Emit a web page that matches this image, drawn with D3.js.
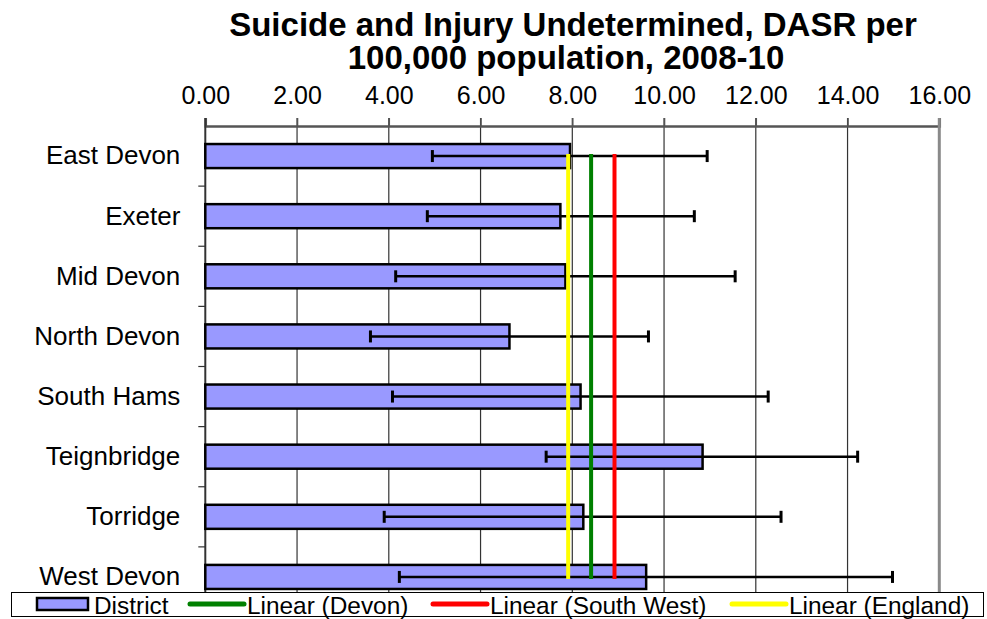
<!DOCTYPE html>
<html><head><meta charset="utf-8">
<script src="https://cdn.jsdelivr.net/npm/d3@7"></script>
<style>body{margin:0;background:#fff;} svg{display:block;font-family:"Liberation Sans",Arial,sans-serif;}</style>
</head><body>
<svg id="chart" width="987" height="619"></svg>
<script>
const categories = ["East Devon","Exeter","Mid Devon","North Devon","South Hams","Teignbridge","Torridge","West Devon"];
const districtValues = [7.95, 7.74, 7.85, 6.63, 8.18, 10.84, 8.24, 9.61];
const lowerCI = [4.95, 4.84, 4.15, 3.60, 4.08, 7.43, 3.90, 4.23];
const upperCI = [10.94, 10.66, 11.55, 9.66, 12.27, 14.22, 12.55, 14.98];
const refNames = ["Linear (Devon)", "Linear (South West)", "Linear (England)"];
const refValues = [8.41, 8.92, 7.91];
const refColors = ["#008000", "#ff0000", "#ffff00"];
const xTicks = [0,2,4,6,8,10,12,14,16];

(function(){
const svg = d3.select("#chart");
const pL = 205.3, pR = 939.3, pT = 126, pB = 607;
const x = d3.scaleLinear().domain([0,16]).range([pL,pR]);
const y = d3.scaleBand().domain(categories).range([pT,pB]).paddingInner(0.6).paddingOuter(0.3);

// title
const title = svg.append("text").attr("text-anchor","middle").attr("font-weight","bold").attr("font-size",33);
title.append("tspan").attr("x",573).attr("y",36).text("Suicide and Injury Undetermined, DASR per");
title.append("tspan").attr("x",566).attr("y",69).text("100,000 population, 2008-10");

// gridlines
svg.append("g").selectAll("line").data(xTicks.slice(1,-1)).join("line")
  .attr("x1",d=>x(d)).attr("x2",d=>x(d)).attr("y1",pT-8).attr("y2",pB)
  .attr("stroke","#333").attr("stroke-width",1.2);
// top axis
const xAxis = d3.axisTop(x).tickValues(xTicks).tickFormat(d3.format(".2f")).tickSize(8).tickPadding(14);
const gx = svg.append("g").attr("transform",`translate(0,${pT})`).call(xAxis);
gx.select(".domain").attr("stroke","#555").attr("stroke-width",2.5);
gx.selectAll(".tick line").attr("stroke","#555").attr("stroke-width",1.5);
gx.selectAll(".tick text").attr("font-size",25).attr("fill","#000").attr("font-family","Liberation Sans, Arial, sans-serif");
// right border
svg.append("line").attr("x1",pR).attr("x2",pR).attr("y1",pT-8).attr("y2",pB).attr("stroke","#8a8a8a").attr("stroke-width",3);

// left axis
const yAxis = d3.axisLeft(y).tickSize(0).tickPadding(25);
const gy = svg.append("g").attr("transform",`translate(${pL},0)`).call(yAxis);
gy.select(".domain").remove();
gy.selectAll(".tick text").attr("font-size",26).attr("fill","#000").attr("font-family","Liberation Sans, Arial, sans-serif");
svg.append("line").attr("x1",pL).attr("x2",pL).attr("y1",pT-8).attr("y2",pB).attr("stroke","#333").attr("stroke-width",2);
const bounds = d3.range(1, categories.length+1).map(i => pT + i*(pB-pT)/categories.length);
svg.append("g").selectAll("line").data(bounds).join("line")
  .attr("x1",pL-7).attr("x2",pL).attr("y1",d=>d).attr("y2",d=>d).attr("stroke","#333").attr("stroke-width",1.2);

// bars
svg.append("g").selectAll("rect").data(categories).join("rect")
  .attr("x",x(0)).attr("y",d=>y(d)).attr("height",y.bandwidth())
  .attr("width",(d,i)=>x(districtValues[i])-x(0))
  .attr("fill","#9999ff").attr("stroke","#000").attr("stroke-width",2.5);

// error bars
const eb = svg.append("g").attr("stroke","#000");
categories.forEach((c,i)=>{
  const cy = y(c)+y.bandwidth()/2;
  eb.append("line").attr("x1",x(lowerCI[i])).attr("x2",x(upperCI[i])).attr("y1",cy).attr("y2",cy).attr("stroke-width",2.5);
  [lowerCI[i],upperCI[i]].forEach(v=>{
    eb.append("line").attr("x1",x(v)).attr("x2",x(v)).attr("y1",cy-6).attr("y2",cy+6).attr("stroke-width",3);
  });
});

// reference lines
const ly0 = y(categories[0])+y.bandwidth()/2 - 2, ly1 = y(categories[categories.length-1])+y.bandwidth()/2 + 2;
svg.append("g").selectAll("line").data(refValues).join("line")
  .attr("x1",d=>x(d)).attr("x2",d=>x(d)).attr("y1",ly0).attr("y2",ly1)
  .attr("stroke",(d,i)=>refColors[i]).attr("stroke-width",4);

// legend
const lg = svg.append("g");
lg.append("rect").attr("x",11.5).attr("y",592.5).attr("width",972).attr("height",24).attr("fill","#fff").attr("stroke","#000").attr("stroke-width",1);
lg.append("rect").attr("x",37).attr("y",598).attr("width",51).attr("height",12).attr("fill","#9999ff").attr("stroke","#000").attr("stroke-width",2.5);
lg.append("text").attr("x",94).attr("y",614).attr("font-size",24.4).text("District");
const legX = [190, 433, 732];
refNames.forEach((n,i)=>{
  lg.append("line").attr("x1",legX[i]).attr("x2",legX[i]+54).attr("y1",604).attr("y2",604).attr("stroke",refColors[i]).attr("stroke-width",5).attr("stroke-linecap","round");
  lg.append("text").attr("x",legX[i]+57).attr("y",614).attr("font-size",24.4).text(n);
});
})();
</script>
</body></html>
